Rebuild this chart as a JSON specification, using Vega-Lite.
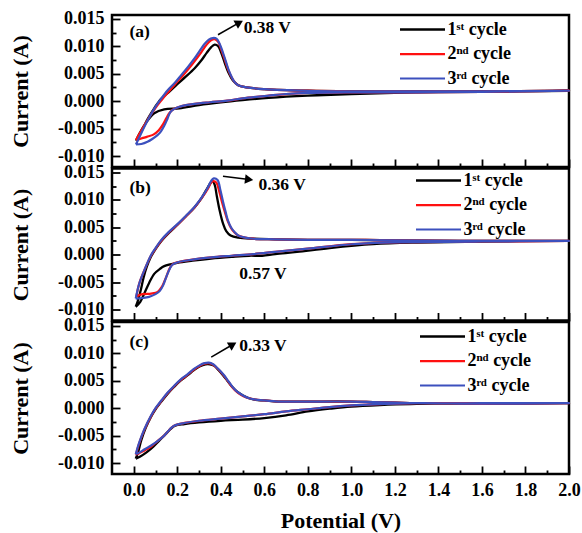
{
  "$schema": "https://vega.github.io/schema/vega-lite/v6.json",
  "padding": {"left": 8, "top": 8, "right": 14, "bottom": 0},
  "spacing": 1.5,
  "bounds": "flush",
  "config": {
    "view": {"stroke": "black", "strokeWidth": 2.5},
    "font": "Liberation Serif",
    "axis": {
      "domain": false, "ticks": false, "grid": true, "gridColor": "black", "gridWidth": 1.8, "gridOpacity": 1,
      "labelFont": "Liberation Serif", "labelFontSize": 18, "labelFontWeight": "bold", "labelColor": "black",
      "labelOverlap": false, "labelFlush": false, "minExtent": 0,
      "titleFont": "Liberation Serif", "titleFontSize": 22, "titleFontWeight": "bold", "titleColor": "black"
    },
    "axisY": {"labelPadding": 8, "titlePadding": 25},
    "axisX": {"labelPadding": 7, "titlePadding": 11, "gridDashOffset": 864},
    "legend": {
      "orient": "none", "symbolType": "M-3,0L3,0", "symbolSize": 225, "padding": 0,
      "labelFont": "Liberation Serif", "labelFontSize": 18, "labelFontWeight": "bold", "labelColor": "black",
      "rowPadding": 6.5, "labelOffset": 16
    }
  },
  "resolve": {"legend": {"color": "independent", "strokeWidth": "independent"}},
  "datasets": {
    "notes": [
      {"panel": "a", "label": "(a)", "x": -0.02, "y": 0.0126},
      {"panel": "a", "label": "0.38 V", "x": 0.505, "y": 0.0133},
      {"panel": "b", "label": "(b)", "x": -0.02, "y": 0.0122},
      {"panel": "b", "label": "0.36 V", "x": 0.573, "y": 0.0127},
      {"panel": "b", "label": "0.57 V", "x": 0.485, "y": -0.0035},
      {"panel": "c", "label": "(c)", "x": -0.02, "y": 0.012},
      {"panel": "c", "label": "0.33 V", "x": 0.485, "y": 0.0114}
    ],
    "arrows": [
      {"panel": "a", "x": 0.485, "y": 0.0143, "x2": 0.387, "y2": 0.0121},
      {"panel": "b", "x": 0.53, "y": 0.0137, "x2": 0.41, "y2": 0.0143},
      {"panel": "c", "x": 0.455, "y": 0.0116, "x2": 0.356, "y2": 0.0093}
    ],
    "cv": [
      {"panel":"a","cycle":"1st","x":0.010,"y":-0.0072},
      {"panel":"a","cycle":"1st","x":0.035,"y":-0.0055},
      {"panel":"a","cycle":"1st","x":0.063,"y":-0.0033},
      {"panel":"a","cycle":"1st","x":0.094,"y":-0.0013},
      {"panel":"a","cycle":"1st","x":0.125,"y":0.0004},
      {"panel":"a","cycle":"1st","x":0.160,"y":0.0016},
      {"panel":"a","cycle":"1st","x":0.200,"y":0.0031},
      {"panel":"a","cycle":"1st","x":0.240,"y":0.0045},
      {"panel":"a","cycle":"1st","x":0.280,"y":0.0060},
      {"panel":"a","cycle":"1st","x":0.310,"y":0.0074},
      {"panel":"a","cycle":"1st","x":0.335,"y":0.0088},
      {"panel":"a","cycle":"1st","x":0.355,"y":0.0098},
      {"panel":"a","cycle":"1st","x":0.372,"y":0.0103},
      {"panel":"a","cycle":"1st","x":0.388,"y":0.0100},
      {"panel":"a","cycle":"1st","x":0.402,"y":0.0088},
      {"panel":"a","cycle":"1st","x":0.418,"y":0.0070},
      {"panel":"a","cycle":"1st","x":0.435,"y":0.0052},
      {"panel":"a","cycle":"1st","x":0.455,"y":0.0038},
      {"panel":"a","cycle":"1st","x":0.480,"y":0.0029},
      {"panel":"a","cycle":"1st","x":0.520,"y":0.0025},
      {"panel":"a","cycle":"1st","x":0.600,"y":0.0022},
      {"panel":"a","cycle":"1st","x":0.800,"y":0.0019},
      {"panel":"a","cycle":"1st","x":1.000,"y":0.0018},
      {"panel":"a","cycle":"1st","x":1.300,"y":0.0018},
      {"panel":"a","cycle":"1st","x":1.600,"y":0.0018},
      {"panel":"a","cycle":"1st","x":2.000,"y":0.0019},
      {"panel":"a","cycle":"1st","x":1.600,"y":0.0017},
      {"panel":"a","cycle":"1st","x":1.300,"y":0.0016},
      {"panel":"a","cycle":"1st","x":1.000,"y":0.0013},
      {"panel":"a","cycle":"1st","x":0.800,"y":0.0010},
      {"panel":"a","cycle":"1st","x":0.620,"y":0.0006},
      {"panel":"a","cycle":"1st","x":0.500,"y":0.0002},
      {"panel":"a","cycle":"1st","x":0.400,"y":-0.0002},
      {"panel":"a","cycle":"1st","x":0.300,"y":-0.0007},
      {"panel":"a","cycle":"1st","x":0.210,"y":-0.0013},
      {"panel":"a","cycle":"1st","x":0.140,"y":-0.0015},
      {"panel":"a","cycle":"1st","x":0.094,"y":-0.0022},
      {"panel":"a","cycle":"1st","x":0.070,"y":-0.0032},
      {"panel":"a","cycle":"1st","x":0.048,"y":-0.0044},
      {"panel":"a","cycle":"1st","x":0.025,"y":-0.0060},
      {"panel":"a","cycle":"1st","x":0.010,"y":-0.0072},

      {"panel":"a","cycle":"2nd","x":0.010,"y":-0.0071},
      {"panel":"a","cycle":"2nd","x":0.040,"y":-0.0050},
      {"panel":"a","cycle":"2nd","x":0.070,"y":-0.0030},
      {"panel":"a","cycle":"2nd","x":0.100,"y":-0.0012},
      {"panel":"a","cycle":"2nd","x":0.130,"y":0.0003},
      {"panel":"a","cycle":"2nd","x":0.160,"y":0.0017},
      {"panel":"a","cycle":"2nd","x":0.190,"y":0.0031},
      {"panel":"a","cycle":"2nd","x":0.220,"y":0.0044},
      {"panel":"a","cycle":"2nd","x":0.250,"y":0.0058},
      {"panel":"a","cycle":"2nd","x":0.280,"y":0.0073},
      {"panel":"a","cycle":"2nd","x":0.310,"y":0.0089},
      {"panel":"a","cycle":"2nd","x":0.335,"y":0.0103},
      {"panel":"a","cycle":"2nd","x":0.355,"y":0.0111},
      {"panel":"a","cycle":"2nd","x":0.372,"y":0.0113},
      {"panel":"a","cycle":"2nd","x":0.388,"y":0.0108},
      {"panel":"a","cycle":"2nd","x":0.402,"y":0.0094},
      {"panel":"a","cycle":"2nd","x":0.417,"y":0.0077},
      {"panel":"a","cycle":"2nd","x":0.435,"y":0.0056},
      {"panel":"a","cycle":"2nd","x":0.450,"y":0.0043},
      {"panel":"a","cycle":"2nd","x":0.465,"y":0.0034},
      {"panel":"a","cycle":"2nd","x":0.480,"y":0.0029},
      {"panel":"a","cycle":"2nd","x":0.520,"y":0.0025},
      {"panel":"a","cycle":"2nd","x":0.600,"y":0.0022},
      {"panel":"a","cycle":"2nd","x":0.800,"y":0.0019},
      {"panel":"a","cycle":"2nd","x":1.000,"y":0.0018},
      {"panel":"a","cycle":"2nd","x":1.300,"y":0.0018},
      {"panel":"a","cycle":"2nd","x":1.600,"y":0.0018},
      {"panel":"a","cycle":"2nd","x":2.000,"y":0.0019},
      {"panel":"a","cycle":"2nd","x":1.600,"y":0.0017},
      {"panel":"a","cycle":"2nd","x":1.300,"y":0.0016},
      {"panel":"a","cycle":"2nd","x":1.000,"y":0.0016},
      {"panel":"a","cycle":"2nd","x":0.800,"y":0.0015},
      {"panel":"a","cycle":"2nd","x":0.700,"y":0.0013},
      {"panel":"a","cycle":"2nd","x":0.620,"y":0.0010},
      {"panel":"a","cycle":"2nd","x":0.500,"y":0.0005},
      {"panel":"a","cycle":"2nd","x":0.430,"y":0.0001},
      {"panel":"a","cycle":"2nd","x":0.350,"y":-0.0002},
      {"panel":"a","cycle":"2nd","x":0.280,"y":-0.0005},
      {"panel":"a","cycle":"2nd","x":0.220,"y":-0.0009},
      {"panel":"a","cycle":"2nd","x":0.186,"y":-0.0014},
      {"panel":"a","cycle":"2nd","x":0.165,"y":-0.0021},
      {"panel":"a","cycle":"2nd","x":0.150,"y":-0.0031},
      {"panel":"a","cycle":"2nd","x":0.135,"y":-0.0042},
      {"panel":"a","cycle":"2nd","x":0.115,"y":-0.0053},
      {"panel":"a","cycle":"2nd","x":0.090,"y":-0.0061},
      {"panel":"a","cycle":"2nd","x":0.060,"y":-0.0065},
      {"panel":"a","cycle":"2nd","x":0.035,"y":-0.0068},
      {"panel":"a","cycle":"2nd","x":0.010,"y":-0.0071},

      {"panel":"a","cycle":"3rd","x":0.010,"y":-0.0079},
      {"panel":"a","cycle":"3rd","x":0.030,"y":-0.0062},
      {"panel":"a","cycle":"3rd","x":0.060,"y":-0.0038},
      {"panel":"a","cycle":"3rd","x":0.094,"y":-0.0014},
      {"panel":"a","cycle":"3rd","x":0.125,"y":0.0004},
      {"panel":"a","cycle":"3rd","x":0.156,"y":0.0020},
      {"panel":"a","cycle":"3rd","x":0.190,"y":0.0034},
      {"panel":"a","cycle":"3rd","x":0.217,"y":0.0047},
      {"panel":"a","cycle":"3rd","x":0.250,"y":0.0063},
      {"panel":"a","cycle":"3rd","x":0.279,"y":0.0078},
      {"panel":"a","cycle":"3rd","x":0.305,"y":0.0093},
      {"panel":"a","cycle":"3rd","x":0.325,"y":0.0104},
      {"panel":"a","cycle":"3rd","x":0.345,"y":0.0112},
      {"panel":"a","cycle":"3rd","x":0.362,"y":0.0115},
      {"panel":"a","cycle":"3rd","x":0.380,"y":0.0114},
      {"panel":"a","cycle":"3rd","x":0.395,"y":0.0104},
      {"panel":"a","cycle":"3rd","x":0.417,"y":0.0080},
      {"panel":"a","cycle":"3rd","x":0.435,"y":0.0058},
      {"panel":"a","cycle":"3rd","x":0.450,"y":0.0044},
      {"panel":"a","cycle":"3rd","x":0.465,"y":0.0034},
      {"panel":"a","cycle":"3rd","x":0.480,"y":0.0029},
      {"panel":"a","cycle":"3rd","x":0.520,"y":0.0025},
      {"panel":"a","cycle":"3rd","x":0.600,"y":0.0022},
      {"panel":"a","cycle":"3rd","x":0.800,"y":0.0019},
      {"panel":"a","cycle":"3rd","x":1.000,"y":0.0018},
      {"panel":"a","cycle":"3rd","x":1.300,"y":0.0018},
      {"panel":"a","cycle":"3rd","x":1.600,"y":0.0018},
      {"panel":"a","cycle":"3rd","x":2.000,"y":0.0019},
      {"panel":"a","cycle":"3rd","x":1.600,"y":0.0017},
      {"panel":"a","cycle":"3rd","x":1.300,"y":0.0016},
      {"panel":"a","cycle":"3rd","x":1.000,"y":0.0016},
      {"panel":"a","cycle":"3rd","x":0.800,"y":0.0015},
      {"panel":"a","cycle":"3rd","x":0.700,"y":0.0013},
      {"panel":"a","cycle":"3rd","x":0.620,"y":0.0010},
      {"panel":"a","cycle":"3rd","x":0.500,"y":0.0005},
      {"panel":"a","cycle":"3rd","x":0.430,"y":0.0001},
      {"panel":"a","cycle":"3rd","x":0.350,"y":-0.0002},
      {"panel":"a","cycle":"3rd","x":0.280,"y":-0.0005},
      {"panel":"a","cycle":"3rd","x":0.220,"y":-0.0009},
      {"panel":"a","cycle":"3rd","x":0.186,"y":-0.0014},
      {"panel":"a","cycle":"3rd","x":0.168,"y":-0.0020},
      {"panel":"a","cycle":"3rd","x":0.155,"y":-0.0032},
      {"panel":"a","cycle":"3rd","x":0.140,"y":-0.0045},
      {"panel":"a","cycle":"3rd","x":0.125,"y":-0.0055},
      {"panel":"a","cycle":"3rd","x":0.109,"y":-0.0062},
      {"panel":"a","cycle":"3rd","x":0.085,"y":-0.0069},
      {"panel":"a","cycle":"3rd","x":0.063,"y":-0.0074},
      {"panel":"a","cycle":"3rd","x":0.035,"y":-0.0078},
      {"panel":"a","cycle":"3rd","x":0.010,"y":-0.0079},

      {"panel":"b","cycle":"1st","x":0.009,"y":-0.0095},
      {"panel":"b","cycle":"1st","x":0.020,"y":-0.0083},
      {"panel":"b","cycle":"1st","x":0.032,"y":-0.0065},
      {"panel":"b","cycle":"1st","x":0.045,"y":-0.0042},
      {"panel":"b","cycle":"1st","x":0.060,"y":-0.0022},
      {"panel":"b","cycle":"1st","x":0.079,"y":-0.0004},
      {"panel":"b","cycle":"1st","x":0.100,"y":0.0010},
      {"panel":"b","cycle":"1st","x":0.125,"y":0.0024},
      {"panel":"b","cycle":"1st","x":0.160,"y":0.0039},
      {"panel":"b","cycle":"1st","x":0.202,"y":0.0055},
      {"panel":"b","cycle":"1st","x":0.240,"y":0.0070},
      {"panel":"b","cycle":"1st","x":0.279,"y":0.0086},
      {"panel":"b","cycle":"1st","x":0.310,"y":0.0102},
      {"panel":"b","cycle":"1st","x":0.335,"y":0.0119},
      {"panel":"b","cycle":"1st","x":0.352,"y":0.0130},
      {"panel":"b","cycle":"1st","x":0.362,"y":0.0134},
      {"panel":"b","cycle":"1st","x":0.372,"y":0.0127},
      {"panel":"b","cycle":"1st","x":0.382,"y":0.0106},
      {"panel":"b","cycle":"1st","x":0.395,"y":0.0080},
      {"panel":"b","cycle":"1st","x":0.410,"y":0.0057},
      {"panel":"b","cycle":"1st","x":0.425,"y":0.0043},
      {"panel":"b","cycle":"1st","x":0.445,"y":0.0035},
      {"panel":"b","cycle":"1st","x":0.480,"y":0.0031},
      {"panel":"b","cycle":"1st","x":0.550,"y":0.0029},
      {"panel":"b","cycle":"1st","x":0.650,"y":0.0028},
      {"panel":"b","cycle":"1st","x":0.800,"y":0.0027},
      {"panel":"b","cycle":"1st","x":1.000,"y":0.0027},
      {"panel":"b","cycle":"1st","x":1.200,"y":0.0026},
      {"panel":"b","cycle":"1st","x":1.500,"y":0.0025},
      {"panel":"b","cycle":"1st","x":2.000,"y":0.0025},
      {"panel":"b","cycle":"1st","x":1.600,"y":0.0024},
      {"panel":"b","cycle":"1st","x":1.300,"y":0.0022},
      {"panel":"b","cycle":"1st","x":1.100,"y":0.0019},
      {"panel":"b","cycle":"1st","x":0.900,"y":0.0012},
      {"panel":"b","cycle":"1st","x":0.750,"y":0.0005},
      {"panel":"b","cycle":"1st","x":0.650,"y":0.0001},
      {"panel":"b","cycle":"1st","x":0.590,"y":-0.0002},
      {"panel":"b","cycle":"1st","x":0.530,"y":-0.0002},
      {"panel":"b","cycle":"1st","x":0.450,"y":-0.0004},
      {"panel":"b","cycle":"1st","x":0.356,"y":-0.0007},
      {"panel":"b","cycle":"1st","x":0.270,"y":-0.0011},
      {"panel":"b","cycle":"1st","x":0.200,"y":-0.0015},
      {"panel":"b","cycle":"1st","x":0.140,"y":-0.0021},
      {"panel":"b","cycle":"1st","x":0.120,"y":-0.0026},
      {"panel":"b","cycle":"1st","x":0.094,"y":-0.0035},
      {"panel":"b","cycle":"1st","x":0.070,"y":-0.0052},
      {"panel":"b","cycle":"1st","x":0.048,"y":-0.0071},
      {"panel":"b","cycle":"1st","x":0.030,"y":-0.0086},
      {"panel":"b","cycle":"1st","x":0.009,"y":-0.0095},

      {"panel":"b","cycle":"2nd","x":0.012,"y":-0.0076},
      {"panel":"b","cycle":"2nd","x":0.025,"y":-0.0053},
      {"panel":"b","cycle":"2nd","x":0.048,"y":-0.0029},
      {"panel":"b","cycle":"2nd","x":0.079,"y":-0.0002},
      {"panel":"b","cycle":"2nd","x":0.100,"y":0.0011},
      {"panel":"b","cycle":"2nd","x":0.125,"y":0.0025},
      {"panel":"b","cycle":"2nd","x":0.160,"y":0.0040},
      {"panel":"b","cycle":"2nd","x":0.202,"y":0.0055},
      {"panel":"b","cycle":"2nd","x":0.240,"y":0.0070},
      {"panel":"b","cycle":"2nd","x":0.279,"y":0.0086},
      {"panel":"b","cycle":"2nd","x":0.310,"y":0.0102},
      {"panel":"b","cycle":"2nd","x":0.340,"y":0.0120},
      {"panel":"b","cycle":"2nd","x":0.355,"y":0.0131},
      {"panel":"b","cycle":"2nd","x":0.365,"y":0.0134},
      {"panel":"b","cycle":"2nd","x":0.380,"y":0.0131},
      {"panel":"b","cycle":"2nd","x":0.393,"y":0.0115},
      {"panel":"b","cycle":"2nd","x":0.406,"y":0.0095},
      {"panel":"b","cycle":"2nd","x":0.420,"y":0.0076},
      {"panel":"b","cycle":"2nd","x":0.432,"y":0.0061},
      {"panel":"b","cycle":"2nd","x":0.448,"y":0.0048},
      {"panel":"b","cycle":"2nd","x":0.464,"y":0.0040},
      {"panel":"b","cycle":"2nd","x":0.480,"y":0.0035},
      {"panel":"b","cycle":"2nd","x":0.502,"y":0.0032},
      {"panel":"b","cycle":"2nd","x":0.550,"y":0.0029},
      {"panel":"b","cycle":"2nd","x":0.650,"y":0.0028},
      {"panel":"b","cycle":"2nd","x":0.800,"y":0.0027},
      {"panel":"b","cycle":"2nd","x":1.000,"y":0.0027},
      {"panel":"b","cycle":"2nd","x":1.200,"y":0.0026},
      {"panel":"b","cycle":"2nd","x":1.500,"y":0.0025},
      {"panel":"b","cycle":"2nd","x":2.000,"y":0.0025},
      {"panel":"b","cycle":"2nd","x":1.600,"y":0.0024},
      {"panel":"b","cycle":"2nd","x":1.300,"y":0.0023},
      {"panel":"b","cycle":"2nd","x":1.150,"y":0.0022},
      {"panel":"b","cycle":"2nd","x":1.000,"y":0.0019},
      {"panel":"b","cycle":"2nd","x":0.800,"y":0.0011},
      {"panel":"b","cycle":"2nd","x":0.650,"y":0.0005},
      {"panel":"b","cycle":"2nd","x":0.550,"y":0.0001},
      {"panel":"b","cycle":"2nd","x":0.450,"y":-0.0002},
      {"panel":"b","cycle":"2nd","x":0.356,"y":-0.0005},
      {"panel":"b","cycle":"2nd","x":0.270,"y":-0.0009},
      {"panel":"b","cycle":"2nd","x":0.210,"y":-0.0013},
      {"panel":"b","cycle":"2nd","x":0.180,"y":-0.0017},
      {"panel":"b","cycle":"2nd","x":0.165,"y":-0.0025},
      {"panel":"b","cycle":"2nd","x":0.150,"y":-0.0040},
      {"panel":"b","cycle":"2nd","x":0.130,"y":-0.0058},
      {"panel":"b","cycle":"2nd","x":0.110,"y":-0.0068},
      {"panel":"b","cycle":"2nd","x":0.080,"y":-0.0071},
      {"panel":"b","cycle":"2nd","x":0.040,"y":-0.0072},
      {"panel":"b","cycle":"2nd","x":0.012,"y":-0.0076},

      {"panel":"b","cycle":"3rd","x":0.009,"y":-0.0080},
      {"panel":"b","cycle":"3rd","x":0.025,"y":-0.0053},
      {"panel":"b","cycle":"3rd","x":0.048,"y":-0.0029},
      {"panel":"b","cycle":"3rd","x":0.079,"y":-0.0001},
      {"panel":"b","cycle":"3rd","x":0.100,"y":0.0012},
      {"panel":"b","cycle":"3rd","x":0.125,"y":0.0026},
      {"panel":"b","cycle":"3rd","x":0.160,"y":0.0041},
      {"panel":"b","cycle":"3rd","x":0.202,"y":0.0056},
      {"panel":"b","cycle":"3rd","x":0.240,"y":0.0071},
      {"panel":"b","cycle":"3rd","x":0.279,"y":0.0087},
      {"panel":"b","cycle":"3rd","x":0.310,"y":0.0103},
      {"panel":"b","cycle":"3rd","x":0.340,"y":0.0122},
      {"panel":"b","cycle":"3rd","x":0.355,"y":0.0134},
      {"panel":"b","cycle":"3rd","x":0.368,"y":0.0139},
      {"panel":"b","cycle":"3rd","x":0.385,"y":0.0136},
      {"panel":"b","cycle":"3rd","x":0.398,"y":0.0118},
      {"panel":"b","cycle":"3rd","x":0.410,"y":0.0097},
      {"panel":"b","cycle":"3rd","x":0.422,"y":0.0078},
      {"panel":"b","cycle":"3rd","x":0.433,"y":0.0062},
      {"panel":"b","cycle":"3rd","x":0.448,"y":0.0049},
      {"panel":"b","cycle":"3rd","x":0.464,"y":0.0041},
      {"panel":"b","cycle":"3rd","x":0.480,"y":0.0035},
      {"panel":"b","cycle":"3rd","x":0.502,"y":0.0032},
      {"panel":"b","cycle":"3rd","x":0.550,"y":0.0029},
      {"panel":"b","cycle":"3rd","x":0.650,"y":0.0028},
      {"panel":"b","cycle":"3rd","x":0.800,"y":0.0027},
      {"panel":"b","cycle":"3rd","x":1.000,"y":0.0027},
      {"panel":"b","cycle":"3rd","x":1.200,"y":0.0026},
      {"panel":"b","cycle":"3rd","x":1.500,"y":0.0025},
      {"panel":"b","cycle":"3rd","x":2.000,"y":0.0025},
      {"panel":"b","cycle":"3rd","x":1.600,"y":0.0024},
      {"panel":"b","cycle":"3rd","x":1.300,"y":0.0023},
      {"panel":"b","cycle":"3rd","x":1.150,"y":0.0022},
      {"panel":"b","cycle":"3rd","x":1.000,"y":0.0019},
      {"panel":"b","cycle":"3rd","x":0.800,"y":0.0011},
      {"panel":"b","cycle":"3rd","x":0.650,"y":0.0005},
      {"panel":"b","cycle":"3rd","x":0.550,"y":0.0001},
      {"panel":"b","cycle":"3rd","x":0.450,"y":-0.0002},
      {"panel":"b","cycle":"3rd","x":0.356,"y":-0.0005},
      {"panel":"b","cycle":"3rd","x":0.270,"y":-0.0009},
      {"panel":"b","cycle":"3rd","x":0.210,"y":-0.0013},
      {"panel":"b","cycle":"3rd","x":0.178,"y":-0.0018},
      {"panel":"b","cycle":"3rd","x":0.165,"y":-0.0026},
      {"panel":"b","cycle":"3rd","x":0.150,"y":-0.0040},
      {"panel":"b","cycle":"3rd","x":0.135,"y":-0.0056},
      {"panel":"b","cycle":"3rd","x":0.120,"y":-0.0066},
      {"panel":"b","cycle":"3rd","x":0.100,"y":-0.0072},
      {"panel":"b","cycle":"3rd","x":0.070,"y":-0.0077},
      {"panel":"b","cycle":"3rd","x":0.040,"y":-0.0079},
      {"panel":"b","cycle":"3rd","x":0.009,"y":-0.0080},

      {"panel":"c","cycle":"1st","x":0.009,"y":-0.0092},
      {"panel":"c","cycle":"1st","x":0.020,"y":-0.0080},
      {"panel":"c","cycle":"1st","x":0.035,"y":-0.0058},
      {"panel":"c","cycle":"1st","x":0.055,"y":-0.0036},
      {"panel":"c","cycle":"1st","x":0.079,"y":-0.0016},
      {"panel":"c","cycle":"1st","x":0.100,"y":-0.0002},
      {"panel":"c","cycle":"1st","x":0.125,"y":0.0011},
      {"panel":"c","cycle":"1st","x":0.155,"y":0.0026},
      {"panel":"c","cycle":"1st","x":0.186,"y":0.0039},
      {"panel":"c","cycle":"1st","x":0.215,"y":0.0050},
      {"panel":"c","cycle":"1st","x":0.248,"y":0.0060},
      {"panel":"c","cycle":"1st","x":0.275,"y":0.0069},
      {"panel":"c","cycle":"1st","x":0.302,"y":0.0076},
      {"panel":"c","cycle":"1st","x":0.330,"y":0.0080},
      {"panel":"c","cycle":"1st","x":0.350,"y":0.0080},
      {"panel":"c","cycle":"1st","x":0.370,"y":0.0077},
      {"panel":"c","cycle":"1st","x":0.390,"y":0.0069},
      {"panel":"c","cycle":"1st","x":0.410,"y":0.0060},
      {"panel":"c","cycle":"1st","x":0.430,"y":0.0050},
      {"panel":"c","cycle":"1st","x":0.452,"y":0.0039},
      {"panel":"c","cycle":"1st","x":0.475,"y":0.0030},
      {"panel":"c","cycle":"1st","x":0.502,"y":0.0023},
      {"panel":"c","cycle":"1st","x":0.530,"y":0.0018},
      {"panel":"c","cycle":"1st","x":0.560,"y":0.0015},
      {"panel":"c","cycle":"1st","x":0.600,"y":0.0014},
      {"panel":"c","cycle":"1st","x":0.664,"y":0.0012},
      {"panel":"c","cycle":"1st","x":0.800,"y":0.0012},
      {"panel":"c","cycle":"1st","x":1.000,"y":0.0012},
      {"panel":"c","cycle":"1st","x":1.100,"y":0.0011},
      {"panel":"c","cycle":"1st","x":1.200,"y":0.0010},
      {"panel":"c","cycle":"1st","x":1.300,"y":0.0009},
      {"panel":"c","cycle":"1st","x":1.600,"y":0.0009},
      {"panel":"c","cycle":"1st","x":2.000,"y":0.0009},
      {"panel":"c","cycle":"1st","x":1.600,"y":0.0008},
      {"panel":"c","cycle":"1st","x":1.300,"y":0.0008},
      {"panel":"c","cycle":"1st","x":1.150,"y":0.0006},
      {"panel":"c","cycle":"1st","x":1.000,"y":0.0003},
      {"panel":"c","cycle":"1st","x":0.900,"y":-0.0001},
      {"panel":"c","cycle":"1st","x":0.800,"y":-0.0006},
      {"panel":"c","cycle":"1st","x":0.700,"y":-0.0013},
      {"panel":"c","cycle":"1st","x":0.600,"y":-0.0018},
      {"panel":"c","cycle":"1st","x":0.500,"y":-0.0021},
      {"panel":"c","cycle":"1st","x":0.400,"y":-0.0023},
      {"panel":"c","cycle":"1st","x":0.300,"y":-0.0026},
      {"panel":"c","cycle":"1st","x":0.233,"y":-0.0029},
      {"panel":"c","cycle":"1st","x":0.190,"y":-0.0032},
      {"panel":"c","cycle":"1st","x":0.170,"y":-0.0038},
      {"panel":"c","cycle":"1st","x":0.150,"y":-0.0046},
      {"panel":"c","cycle":"1st","x":0.120,"y":-0.0058},
      {"panel":"c","cycle":"1st","x":0.090,"y":-0.0070},
      {"panel":"c","cycle":"1st","x":0.060,"y":-0.0080},
      {"panel":"c","cycle":"1st","x":0.030,"y":-0.0088},
      {"panel":"c","cycle":"1st","x":0.009,"y":-0.0092},

      {"panel":"c","cycle":"2nd","x":0.010,"y":-0.0085},
      {"panel":"c","cycle":"2nd","x":0.025,"y":-0.0064},
      {"panel":"c","cycle":"2nd","x":0.048,"y":-0.0040},
      {"panel":"c","cycle":"2nd","x":0.079,"y":-0.0015},
      {"panel":"c","cycle":"2nd","x":0.100,"y":-0.0001},
      {"panel":"c","cycle":"2nd","x":0.125,"y":0.0012},
      {"panel":"c","cycle":"2nd","x":0.155,"y":0.0027},
      {"panel":"c","cycle":"2nd","x":0.186,"y":0.0040},
      {"panel":"c","cycle":"2nd","x":0.215,"y":0.0051},
      {"panel":"c","cycle":"2nd","x":0.248,"y":0.0061},
      {"panel":"c","cycle":"2nd","x":0.275,"y":0.0070},
      {"panel":"c","cycle":"2nd","x":0.302,"y":0.0077},
      {"panel":"c","cycle":"2nd","x":0.325,"y":0.0081},
      {"panel":"c","cycle":"2nd","x":0.345,"y":0.0082},
      {"panel":"c","cycle":"2nd","x":0.365,"y":0.0079},
      {"panel":"c","cycle":"2nd","x":0.380,"y":0.0074},
      {"panel":"c","cycle":"2nd","x":0.400,"y":0.0066},
      {"panel":"c","cycle":"2nd","x":0.417,"y":0.0058},
      {"panel":"c","cycle":"2nd","x":0.435,"y":0.0048},
      {"panel":"c","cycle":"2nd","x":0.455,"y":0.0037},
      {"panel":"c","cycle":"2nd","x":0.475,"y":0.0029},
      {"panel":"c","cycle":"2nd","x":0.502,"y":0.0022},
      {"panel":"c","cycle":"2nd","x":0.530,"y":0.0018},
      {"panel":"c","cycle":"2nd","x":0.554,"y":0.0016},
      {"panel":"c","cycle":"2nd","x":0.600,"y":0.0014},
      {"panel":"c","cycle":"2nd","x":0.664,"y":0.0012},
      {"panel":"c","cycle":"2nd","x":0.800,"y":0.0012},
      {"panel":"c","cycle":"2nd","x":1.000,"y":0.0012},
      {"panel":"c","cycle":"2nd","x":1.100,"y":0.0011},
      {"panel":"c","cycle":"2nd","x":1.200,"y":0.0010},
      {"panel":"c","cycle":"2nd","x":1.300,"y":0.0009},
      {"panel":"c","cycle":"2nd","x":1.600,"y":0.0009},
      {"panel":"c","cycle":"2nd","x":2.000,"y":0.0009},
      {"panel":"c","cycle":"2nd","x":1.600,"y":0.0008},
      {"panel":"c","cycle":"2nd","x":1.300,"y":0.0009},
      {"panel":"c","cycle":"2nd","x":1.100,"y":0.0007},
      {"panel":"c","cycle":"2nd","x":1.000,"y":0.0005},
      {"panel":"c","cycle":"2nd","x":0.900,"y":0.0002},
      {"panel":"c","cycle":"2nd","x":0.800,"y":-0.0002},
      {"panel":"c","cycle":"2nd","x":0.700,"y":-0.0006},
      {"panel":"c","cycle":"2nd","x":0.600,"y":-0.0011},
      {"panel":"c","cycle":"2nd","x":0.500,"y":-0.0015},
      {"panel":"c","cycle":"2nd","x":0.400,"y":-0.0019},
      {"panel":"c","cycle":"2nd","x":0.300,"y":-0.0023},
      {"panel":"c","cycle":"2nd","x":0.233,"y":-0.0027},
      {"panel":"c","cycle":"2nd","x":0.190,"y":-0.0031},
      {"panel":"c","cycle":"2nd","x":0.175,"y":-0.0035},
      {"panel":"c","cycle":"2nd","x":0.160,"y":-0.0041},
      {"panel":"c","cycle":"2nd","x":0.140,"y":-0.0050},
      {"panel":"c","cycle":"2nd","x":0.109,"y":-0.0060},
      {"panel":"c","cycle":"2nd","x":0.080,"y":-0.0070},
      {"panel":"c","cycle":"2nd","x":0.050,"y":-0.0077},
      {"panel":"c","cycle":"2nd","x":0.025,"y":-0.0082},
      {"panel":"c","cycle":"2nd","x":0.010,"y":-0.0085},

      {"panel":"c","cycle":"3rd","x":0.009,"y":-0.0084},
      {"panel":"c","cycle":"3rd","x":0.025,"y":-0.0063},
      {"panel":"c","cycle":"3rd","x":0.048,"y":-0.0039},
      {"panel":"c","cycle":"3rd","x":0.079,"y":-0.0014},
      {"panel":"c","cycle":"3rd","x":0.100,"y":0.0000},
      {"panel":"c","cycle":"3rd","x":0.125,"y":0.0013},
      {"panel":"c","cycle":"3rd","x":0.155,"y":0.0028},
      {"panel":"c","cycle":"3rd","x":0.186,"y":0.0041},
      {"panel":"c","cycle":"3rd","x":0.215,"y":0.0052},
      {"panel":"c","cycle":"3rd","x":0.248,"y":0.0062},
      {"panel":"c","cycle":"3rd","x":0.275,"y":0.0071},
      {"panel":"c","cycle":"3rd","x":0.302,"y":0.0078},
      {"panel":"c","cycle":"3rd","x":0.325,"y":0.0082},
      {"panel":"c","cycle":"3rd","x":0.345,"y":0.0083},
      {"panel":"c","cycle":"3rd","x":0.365,"y":0.0080},
      {"panel":"c","cycle":"3rd","x":0.379,"y":0.0075},
      {"panel":"c","cycle":"3rd","x":0.400,"y":0.0067},
      {"panel":"c","cycle":"3rd","x":0.417,"y":0.0059},
      {"panel":"c","cycle":"3rd","x":0.435,"y":0.0049},
      {"panel":"c","cycle":"3rd","x":0.455,"y":0.0038},
      {"panel":"c","cycle":"3rd","x":0.475,"y":0.0030},
      {"panel":"c","cycle":"3rd","x":0.502,"y":0.0023},
      {"panel":"c","cycle":"3rd","x":0.530,"y":0.0018},
      {"panel":"c","cycle":"3rd","x":0.554,"y":0.0016},
      {"panel":"c","cycle":"3rd","x":0.600,"y":0.0014},
      {"panel":"c","cycle":"3rd","x":0.664,"y":0.0012},
      {"panel":"c","cycle":"3rd","x":0.800,"y":0.0012},
      {"panel":"c","cycle":"3rd","x":1.000,"y":0.0012},
      {"panel":"c","cycle":"3rd","x":1.100,"y":0.0011},
      {"panel":"c","cycle":"3rd","x":1.200,"y":0.0010},
      {"panel":"c","cycle":"3rd","x":1.300,"y":0.0009},
      {"panel":"c","cycle":"3rd","x":1.600,"y":0.0009},
      {"panel":"c","cycle":"3rd","x":2.000,"y":0.0009},
      {"panel":"c","cycle":"3rd","x":1.600,"y":0.0008},
      {"panel":"c","cycle":"3rd","x":1.300,"y":0.0009},
      {"panel":"c","cycle":"3rd","x":1.100,"y":0.0007},
      {"panel":"c","cycle":"3rd","x":1.000,"y":0.0005},
      {"panel":"c","cycle":"3rd","x":0.900,"y":0.0002},
      {"panel":"c","cycle":"3rd","x":0.800,"y":-0.0002},
      {"panel":"c","cycle":"3rd","x":0.700,"y":-0.0006},
      {"panel":"c","cycle":"3rd","x":0.600,"y":-0.0011},
      {"panel":"c","cycle":"3rd","x":0.500,"y":-0.0015},
      {"panel":"c","cycle":"3rd","x":0.400,"y":-0.0019},
      {"panel":"c","cycle":"3rd","x":0.300,"y":-0.0023},
      {"panel":"c","cycle":"3rd","x":0.233,"y":-0.0027},
      {"panel":"c","cycle":"3rd","x":0.190,"y":-0.0031},
      {"panel":"c","cycle":"3rd","x":0.175,"y":-0.0035},
      {"panel":"c","cycle":"3rd","x":0.160,"y":-0.0041},
      {"panel":"c","cycle":"3rd","x":0.140,"y":-0.0050},
      {"panel":"c","cycle":"3rd","x":0.109,"y":-0.0060},
      {"panel":"c","cycle":"3rd","x":0.080,"y":-0.0068},
      {"panel":"c","cycle":"3rd","x":0.050,"y":-0.0075},
      {"panel":"c","cycle":"3rd","x":0.025,"y":-0.0081},
      {"panel":"c","cycle":"3rd","x":0.009,"y":-0.0084}
    ]
  },
  "vconcat": [
    {
      "width": 457, "height": 152,
      "encoding": {
        "x": {"field": "x", "type": "quantitative",
          "scale": {"domain": [-0.1, 2.0], "nice": false, "zero": false},
          "axis": {"title": null, "labels": false, "maxExtent": 0,
            "values": [0,0.1,0.2,0.3,0.4,0.5,0.6,0.7,0.8,0.9,1.0,1.1,1.2,1.3,1.4,1.5,1.6,1.7,1.8,1.9,2.0],
            "gridDash": {"condition": {"test": "abs(datum.value*5-round(datum.value*5))<0.01", "value": [8, 1000]}, "value": [0, 4, 4, 1000]}}},
        "y": {"field": "y", "type": "quantitative",
          "scale": {"domain": [-0.012, 0.0157], "nice": false, "zero": false},
          "axis": {"title": "Current (A)",
            "values": [-0.01,-0.0075,-0.005,-0.0025,0,0.0025,0.005,0.0075,0.01,0.0125,0.015],
            "labelExpr": "abs(datum.value*200-round(datum.value*200))<0.01 ? replace(format(datum.value,'.3f'),'−','-') : ''",
            "gridDash": {"condition": {"test": "abs(datum.value*200-round(datum.value*200))<0.01", "value": [8, 1000]}, "value": [4, 1000]}}}
      },
      "layer": [
        {"data": {"name": "cv"}, "transform": [{"filter": "datum.panel=='a'"}],
         "mark": {"type": "line", "interpolate": "catmull-rom", "strokeJoin": "round"},
         "encoding": {
           "color": {"field": "cycle", "type": "nominal",
             "scale": {"domain": ["1st","2nd","3rd"], "range": ["#000000","#ff1010","#3c50be"]},
             "legend": {"title": null, "legendX": 301.5, "legendY": 5.5,
               "labelExpr": "datum.label=='1st' ? '1ˢᵗ cycle' : datum.label=='2nd' ? '2ⁿᵈ cycle' : '3ʳᵈ cycle'"}},
           "strokeWidth": {"field": "cycle", "type": "nominal",
             "scale": {"domain": ["1st","2nd","3rd"], "range": [2.3, 2.2, 4]},
             "legend": {"title": null, "legendX": 301.5, "legendY": 5.5,
               "labelExpr": "datum.label=='1st' ? '1ˢᵗ cycle' : datum.label=='2nd' ? '2ⁿᵈ cycle' : '3ʳᵈ cycle'"}},
           "order": {"value": null}
         }},
        {"data": {"name": "arrows"}, "transform": [{"filter": "datum.panel=='a'"}],
         "mark": {"type": "rule", "color": "black", "strokeWidth": 1.5},
         "encoding": {"x2": {"field": "x2"}, "y2": {"field": "y2"}}},
        {"data": {"name": "arrows"}, "transform": [{"filter": "datum.panel=='a'"}],
         "mark": {"type": "point", "shape": "triangle-right", "filled": true, "color": "black", "opacity": 1, "size": 90, "angle": 331},
         "encoding": {}},
        {"data": {"name": "notes"}, "transform": [{"filter": "datum.panel=='a'"}],
         "mark": {"type": "text", "align": "left", "baseline": "middle", "font": "Liberation Serif", "fontWeight": "bold", "fontSize": 17.5, "color": "black"},
         "encoding": {"text": {"field": "label"}}}
      ]
    },
    {
      "width": 457, "height": 152,
      "encoding": {
        "x": {"field": "x", "type": "quantitative",
          "scale": {"domain": [-0.1, 2.0], "nice": false, "zero": false},
          "axis": {"title": null, "labels": false, "maxExtent": 0,
            "values": [0,0.1,0.2,0.3,0.4,0.5,0.6,0.7,0.8,0.9,1.0,1.1,1.2,1.3,1.4,1.5,1.6,1.7,1.8,1.9,2.0],
            "gridDash": {"condition": {"test": "abs(datum.value*5-round(datum.value*5))<0.01", "value": [8, 1000]}, "value": [0, 4, 4, 1000]}}},
        "y": {"field": "y", "type": "quantitative",
          "scale": {"domain": [-0.012, 0.0157], "nice": false, "zero": false},
          "axis": {"title": "Current (A)",
            "values": [-0.01,-0.0075,-0.005,-0.0025,0,0.0025,0.005,0.0075,0.01,0.0125,0.015],
            "labelExpr": "abs(datum.value*200-round(datum.value*200))<0.01 ? replace(format(datum.value,'.3f'),'−','-') : ''",
            "gridDash": {"condition": {"test": "abs(datum.value*200-round(datum.value*200))<0.01", "value": [8, 1000]}, "value": [4, 1000]}}}
      },
      "layer": [
        {"data": {"name": "cv"}, "transform": [{"filter": "datum.panel=='b'"}],
         "mark": {"type": "line", "interpolate": "catmull-rom", "strokeJoin": "round"},
         "encoding": {
           "color": {"field": "cycle", "type": "nominal",
             "scale": {"domain": ["1st","2nd","3rd"], "range": ["#000000","#ff1010","#3c50be"]},
             "legend": {"title": null, "legendX": 317.5, "legendY": 3,
               "labelExpr": "datum.label=='1st' ? '1ˢᵗ cycle' : datum.label=='2nd' ? '2ⁿᵈ cycle' : '3ʳᵈ cycle'"}},
           "strokeWidth": {"field": "cycle", "type": "nominal",
             "scale": {"domain": ["1st","2nd","3rd"], "range": [2.3, 2.2, 4]},
             "legend": {"title": null, "legendX": 317.5, "legendY": 3,
               "labelExpr": "datum.label=='1st' ? '1ˢᵗ cycle' : datum.label=='2nd' ? '2ⁿᵈ cycle' : '3ʳᵈ cycle'"}},
           "order": {"value": null}
         }},
        {"data": {"name": "arrows"}, "transform": [{"filter": "datum.panel=='b'"}],
         "mark": {"type": "rule", "color": "black", "strokeWidth": 1.5},
         "encoding": {"x2": {"field": "x2"}, "y2": {"field": "y2"}}},
        {"data": {"name": "arrows"}, "transform": [{"filter": "datum.panel=='b'"}],
         "mark": {"type": "point", "shape": "triangle-right", "filled": true, "color": "black", "opacity": 1, "size": 90, "angle": 7},
         "encoding": {}},
        {"data": {"name": "notes"}, "transform": [{"filter": "datum.panel=='b'"}],
         "mark": {"type": "text", "align": "left", "baseline": "middle", "font": "Liberation Serif", "fontWeight": "bold", "fontSize": 17.5, "color": "black"},
         "encoding": {"text": {"field": "label"}}}
      ]
    },
    {
      "width": 457, "height": 152,
      "encoding": {
        "x": {"field": "x", "type": "quantitative",
          "scale": {"domain": [-0.1, 2.0], "nice": false, "zero": false},
          "axis": {"title": "Potential (V)",
            "values": [0,0.1,0.2,0.3,0.4,0.5,0.6,0.7,0.8,0.9,1.0,1.1,1.2,1.3,1.4,1.5,1.6,1.7,1.8,1.9,2.0],
            "labelExpr": "abs(datum.value*5-round(datum.value*5))<0.01 ? format(datum.value,'.1f') : ''",
            "gridDash": {"condition": {"test": "abs(datum.value*5-round(datum.value*5))<0.01", "value": [8, 1000]}, "value": [0, 4, 4, 1000]}}},
        "y": {"field": "y", "type": "quantitative",
          "scale": {"domain": [-0.012, 0.0157], "nice": false, "zero": false},
          "axis": {"title": "Current (A)",
            "values": [-0.01,-0.0075,-0.005,-0.0025,0,0.0025,0.005,0.0075,0.01,0.0125,0.015],
            "labelExpr": "abs(datum.value*200-round(datum.value*200))<0.01 ? replace(format(datum.value,'.3f'),'−','-') : ''",
            "gridDash": {"condition": {"test": "abs(datum.value*200-round(datum.value*200))<0.01", "value": [8, 1000]}, "value": [4, 1000]}}}
      },
      "layer": [
        {"data": {"name": "cv"}, "transform": [{"filter": "datum.panel=='c'"}],
         "mark": {"type": "line", "interpolate": "catmull-rom", "strokeJoin": "round"},
         "encoding": {
           "color": {"field": "cycle", "type": "nominal",
             "scale": {"domain": ["1st","2nd","3rd"], "range": ["#000000","#ff1010","#3c50be"]},
             "legend": {"title": null, "legendX": 321.5, "legendY": 5.5,
               "labelExpr": "datum.label=='1st' ? '1ˢᵗ cycle' : datum.label=='2nd' ? '2ⁿᵈ cycle' : '3ʳᵈ cycle'"}},
           "strokeWidth": {"field": "cycle", "type": "nominal",
             "scale": {"domain": ["1st","2nd","3rd"], "range": [2.3, 2.2, 4]},
             "legend": {"title": null, "legendX": 321.5, "legendY": 5.5,
               "labelExpr": "datum.label=='1st' ? '1ˢᵗ cycle' : datum.label=='2nd' ? '2ⁿᵈ cycle' : '3ʳᵈ cycle'"}},
           "order": {"value": null}
         }},
        {"data": {"name": "arrows"}, "transform": [{"filter": "datum.panel=='c'"}],
         "mark": {"type": "rule", "color": "black", "strokeWidth": 1.5},
         "encoding": {"x2": {"field": "x2"}, "y2": {"field": "y2"}}},
        {"data": {"name": "arrows"}, "transform": [{"filter": "datum.panel=='c'"}],
         "mark": {"type": "point", "shape": "triangle-right", "filled": true, "color": "black", "opacity": 1, "size": 90, "angle": 330},
         "encoding": {}},
        {"data": {"name": "notes"}, "transform": [{"filter": "datum.panel=='c'"}],
         "mark": {"type": "text", "align": "left", "baseline": "middle", "font": "Liberation Serif", "fontWeight": "bold", "fontSize": 17.5, "color": "black"},
         "encoding": {"text": {"field": "label"}}}
      ]
    }
  ]
}
